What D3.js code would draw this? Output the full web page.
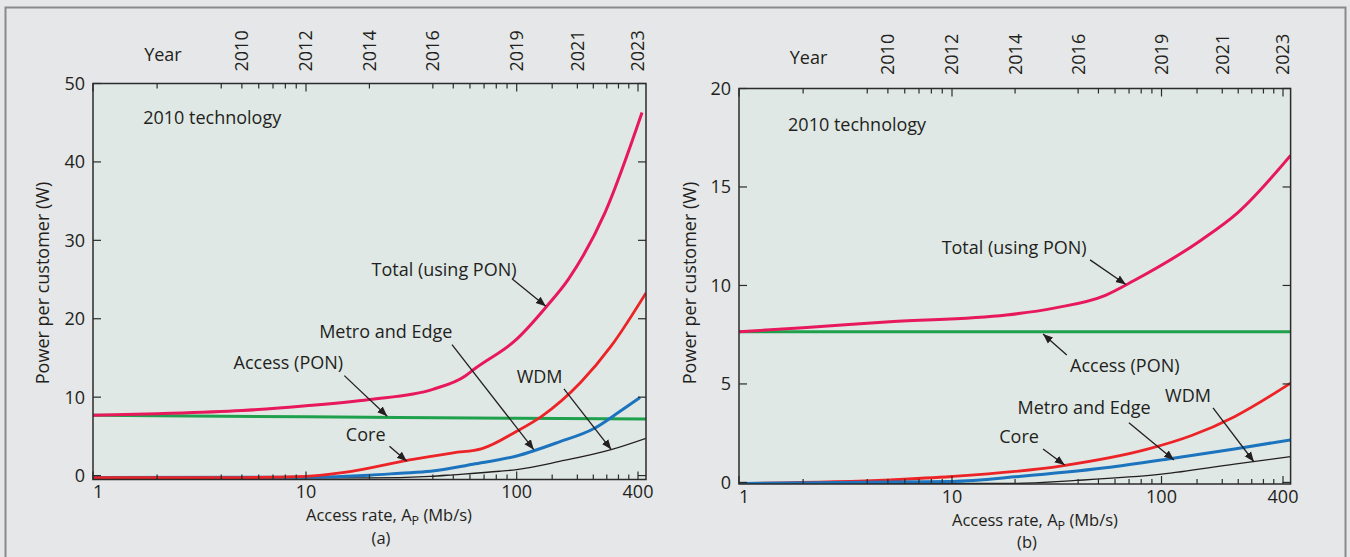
<!DOCTYPE html>
<html>
<head>
<meta charset="utf-8">
<script src="https://cdn.jsdelivr.net/npm/d3@7"></script>
<style>
  body { margin: 0; background: #e6e7e8; }
  svg { display: block; }
  text { font-family: "Open Sans", sans-serif; fill: #231f20; }
</style>
</head>
<body>
<svg id="chart" width="1350" height="557"></svg>
<script>
// access-rate axis (Mb/s), log
const majorRates = [1, 10, 100, 400];
const minorRates = [2, 4, 5, 6, 7, 8, 9, 20, 40, 50, 60, 70, 80, 90, 150, 200, 240, 280, 320, 360];
const yearLabels = ['2010', '2012', '2014', '2016', '2019', '2021', '2023'];
const yearRates = [5, 10, 20, 40, 100, 200, 400];

// panel (a) : power per customer (W)
const a_totalRate = [1, 2, 5, 10, 20, 40, 57, 63, 100, 141, 180, 274, 406];
const a_totalW    = [7.7, 7.9, 8.3, 8.9, 9.7, 11.0, 12.7, 13.6, 17.4, 21.6, 25.0, 33.5, 46.3];
const a_accessRate = [1, 10, 100, 412];
const a_accessW    = [7.7, 7.5, 7.3, 7.2];
const a_metroRate = [1, 5, 10, 15.2, 31, 50, 68.5, 100, 133, 208, 294, 412];
const a_metroW    = [-0.25, -0.25, -0.1, 0.4, 2.0, 2.9, 3.44, 5.65, 7.56, 11.9, 16.5, 23.3];
const a_coreRate = [1, 10, 20, 28, 39, 62, 100, 163, 242, 326, 403];
const a_coreW    = [-0.25, -0.2, 0.05, 0.3, 0.55, 1.45, 2.5, 4.3, 6.0, 8.2, 9.95];
const a_wdmRate = [1, 20, 39, 50, 83, 100, 163, 294, 412];
const a_wdmW    = [-0.3, -0.3, -0.1, 0.1, 0.55, 0.77, 1.8, 3.3, 4.75];
const a_yTicks = [0, 10, 20, 30, 40, 50];

// panel (b)
const b_totalRate = [1, 2, 5.1, 18.2, 30.7, 54, 74, 157, 239, 412];
const b_totalW    = [7.65, 7.85, 8.16, 8.5, 8.85, 9.5, 10.25, 12.3, 13.7, 16.6];
const b_accessRate = [1, 412];
const b_accessW    = [7.65, 7.65];
const b_metroRate = [1, 5.1, 10, 33.5, 86.6, 141, 230, 412];
const b_metroW    = [-0.05, 0.13, 0.3, 0.84, 1.7, 2.38, 3.34, 5.04];
const b_coreRate = [1, 10, 20.9, 54, 110, 230, 412];
const b_coreW    = [-0.05, 0.05, 0.3, 0.74, 1.2, 1.7, 2.16];
const b_wdmRate = [1, 20, 39, 100, 230, 412];
const b_wdmW    = [-0.05, -0.05, 0.1, 0.42, 0.93, 1.31];
const b_yTicks = [0, 5, 10, 15, 20];

// labels with arrows, in data units: text pos, arrow start, arrow tip
const a_notes = [
  {t: 'Total (using PON)', x: 45.2, y: 25.4, x1: 95, y1: 25.1, x2: 139.5, y2: 21.6},
  {t: 'Metro and Edge', x: 23.9, y: 17.5, x1: 49.3, y1: 16.7, x2: 121.6, y2: 3.3},
  {t: 'Access (PON)', x: 8.26, y: 13.65, x1: 15.2, y1: 12.75, x2: 24.3, y2: 7.56},
  {t: 'WDM', x: 129.9, y: 11.86, x1: 171.6, y1: 11.06, x2: 294.7, y2: 3.32},
  {t: 'Core', x: 19.2, y: 4.46, x1: 24.9, y1: 3.74, x2: 30.1, y2: 1.82}
];
const b_notes = [
  {t: 'Total (using PON)', x: 19.8, y: 11.6, x1: 45.6, y1: 11.3, x2: 67.6, y2: 10.05},
  {t: 'Access (PON)', x: 66.8, y: 5.6, x1: 35.3, y1: 6.47, x2: 27.2, y2: 7.54},
  {t: 'Metro and Edge', x: 42.7, y: 3.48, x1: 69.9, y1: 3.03, x2: 115.3, y2: 1.14},
  {t: 'WDM', x: 135.3, y: 4.08, x1: 180, y1: 3.78, x2: 287, y2: 1.05},
  {t: 'Core', x: 20.9, y: 2.0, x1: 27.2, y1: 1.7, x2: 34.5, y2: 0.88}
];

const colTotal = '#e8185c', colAccess = '#1ea04c', colMetro = '#ec2327', colCore = '#1b74bd', colWdm = '#231f20';

const svg = d3.select('#chart');

svg.append('rect').attr('x', 5.5).attr('y', 7.5).attr('width', 1340).attr('height', 600)
  .attr('fill', '#e6e7e8').attr('stroke', '#8a8a8a').attr('stroke-width', 2);

const defs = svg.append('defs');
defs.append('marker').attr('id', 'arr').attr('viewBox', '0 0 10 10')
  .attr('refX', 10).attr('refY', 5).attr('markerWidth', 10).attr('markerHeight', 10)
  .attr('markerUnits', 'userSpaceOnUse').attr('orient', 'auto')
  .append('path').attr('d', 'M0,1 L10,5 L0,9 Z').attr('fill', '#231f20');

function drawPanel(p) {
  const x = d3.scaleLog().domain([1, 10, 100, 400, 412]).range(p.xr);
  const y = d3.scaleLinear().domain(p.yd).range(p.yr);
  const L = p.xr[0], R = p.xr[p.xr.length - 1], T = p.yr[1], B = p.yr[0];
  const g = svg.append('g');

  g.append('rect').attr('x', L).attr('y', T).attr('width', R - L).attr('height', B - T).attr('fill', '#dfe8e5');

  defs.append('clipPath').attr('id', 'clip' + p.id)
    .append('rect').attr('x', L).attr('y', T).attr('width', R - L).attr('height', B - T);

  const line = d3.line().x(d => x(d[0])).y(d => y(d[1])).curve(d3.curveMonotoneX);
  const lg = g.append('g').attr('clip-path', 'url(#clip' + p.id + ')');
  p.series.forEach(s => {
    lg.append('path').datum(d3.zip(s.r, s.w))
      .attr('d', line).attr('fill', 'none')
      .attr('stroke', s.c).attr('stroke-width', s.sw)
      .attr('stroke-linejoin', 'round').attr('stroke-linecap', 'butt');
  });

  // box
  g.append('rect').attr('x', L).attr('y', T).attr('width', R - L).attr('height', B - T)
    .attr('fill', 'none').attr('stroke', '#2b2b2b').attr('stroke-width', 1.5);

  // x ticks top and bottom, inward
  const xt = majorRates.map(v => ({v: v, len: 8})).concat(minorRates.map(v => ({v: v, len: 5})));
  xt.forEach(t => {
    const xx = x(t.v);
    g.append('line').attr('x1', xx).attr('x2', xx).attr('y1', B).attr('y2', B - t.len)
      .attr('stroke', '#2b2b2b').attr('stroke-width', 1.2);
    g.append('line').attr('x1', xx).attr('x2', xx).attr('y1', T).attr('y2', T + t.len)
      .attr('stroke', '#2b2b2b').attr('stroke-width', 1.2);
  });
  majorRates.forEach((v, i) => {
    g.append('text').attr('x', x(v)).attr('y', B + 18.5)
      .attr('text-anchor', i == 0 ? 'start' : 'middle')
      .attr('font-size', 18).text(v);
  });

  // y ticks, inward both sides
  p.yTicks.forEach(v => {
    const yy = y(v);
    g.append('line').attr('x1', L).attr('x2', L + 8).attr('y1', yy).attr('y2', yy)
      .attr('stroke', '#2b2b2b').attr('stroke-width', 1.2);
    g.append('line').attr('x1', R).attr('x2', R - 8).attr('y1', yy).attr('y2', yy)
      .attr('stroke', '#2b2b2b').attr('stroke-width', 1.2);
    g.append('text').attr('x', L - 8).attr('y', yy).attr('dy', '0.36em')
      .attr('text-anchor', 'end').attr('font-size', 18).text(v);
  });

  // year axis on top
  yearRates.forEach((v, i) => {
    g.append('text').attr('transform', `translate(${x(v)},${T - p.yearGap}) rotate(-90)`)
      .attr('text-anchor', 'start').attr('dy', '0.36em').attr('font-size', 18).text(yearLabels[i]);
  });
  g.append('text').attr('x', x(p.yearPos[0])).attr('y', y(p.yearPos[1]))
    .attr('text-anchor', 'middle').attr('font-size', 18).text('Year');

  g.append('text').attr('x', x(p.techPos[0])).attr('y', y(p.techPos[1]))
    .attr('font-size', 18).text('2010 technology');

  // axis titles
  g.append('text').attr('transform', `translate(${p.yLabelX},283) rotate(-90)`)
    .attr('text-anchor', 'middle').attr('dy', '0.36em').attr('font-size', 18).text('Power per customer (W)');
  const xt2 = g.append('text').attr('x', p.titleX).attr('y', B + 41.5)
    .attr('text-anchor', 'middle').attr('font-size', 16.5);
  xt2.append('tspan').text('Access rate, A');
  xt2.append('tspan').attr('font-size', 12.5).attr('dy', 4).text('P');
  xt2.append('tspan').attr('dy', -4).text(' (Mb/s)');
  g.append('text').attr('x', p.titleX - 8).attr('y', B + 64)
    .attr('text-anchor', 'middle').attr('font-size', 16.5).text(p.tag);

  // annotations
  p.notes.forEach(n => {
    g.append('line').attr('x1', x(n.x1)).attr('y1', y(n.y1)).attr('x2', x(n.x2)).attr('y2', y(n.y2))
      .attr('stroke', '#231f20').attr('stroke-width', 1.3).attr('marker-end', 'url(#arr)');
    g.append('text').attr('x', x(n.x)).attr('y', y(n.y)).attr('text-anchor', 'middle')
      .attr('font-size', 18).text(n.t);
  });
}

drawPanel({
  id: 'a', xr: [93, 306, 516.7, 638, 646], yd: [-0.5, 50], yr: [479.5, 83.5],
  yTicks: a_yTicks, yearGap: 12, yearPos: [2.13, 52.9], techPos: [1.72, 44.8],
  yLabelX: 43, titleX: 389, tag: '(a)', notes: a_notes,
  series: [
    {r: a_wdmRate, w: a_wdmW, c: colWdm, sw: 1.3},
    {r: a_accessRate, w: a_accessW, c: colAccess, sw: 3},
    {r: a_coreRate, w: a_coreW, c: colCore, sw: 3},
    {r: a_metroRate, w: a_metroW, c: colMetro, sw: 2.8},
    {r: a_totalRate, w: a_totalW, c: colTotal, sw: 3}
  ]
});

drawPanel({
  id: 'b', xr: [739, 952, 1161.5, 1283, 1290.6], yd: [-0.08, 20], yr: [484, 88.5],
  yTicks: b_yTicks, yearGap: 13.5, yearPos: [2.12, 21.26], techPos: [1.7, 17.86],
  yLabelX: 690, titleX: 1035, tag: '(b)', notes: b_notes,
  series: [
    {r: b_wdmRate, w: b_wdmW, c: colWdm, sw: 1.3},
    {r: b_accessRate, w: b_accessW, c: colAccess, sw: 3},
    {r: b_metroRate, w: b_metroW, c: colMetro, sw: 2.8},
    {r: b_coreRate, w: b_coreW, c: colCore, sw: 3},
    {r: b_totalRate, w: b_totalW, c: colTotal, sw: 3}
  ]
});
</script>
</body>
</html>
